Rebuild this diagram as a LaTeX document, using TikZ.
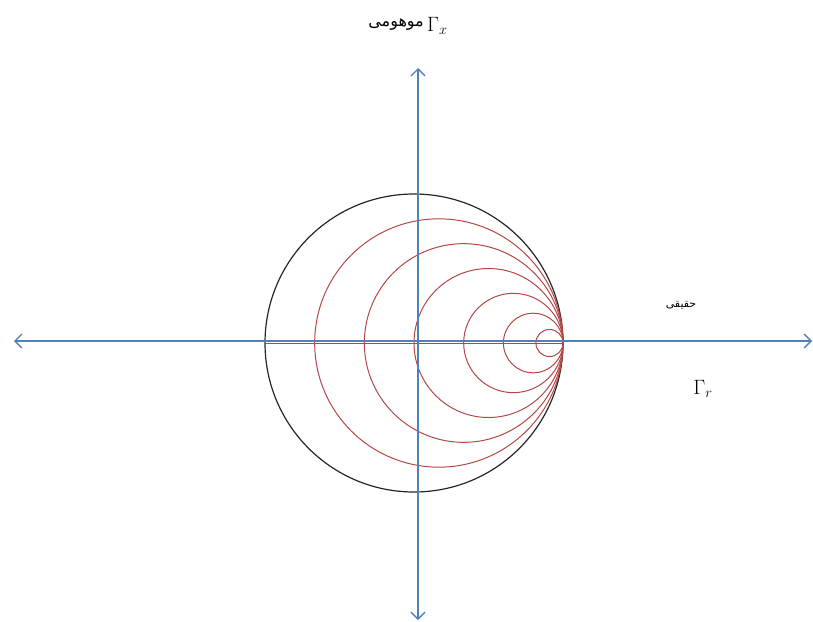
\documentclass[tikz,border=0pt]{standalone}
\usepackage{fontspec}
\newfontfamily\arabicfont[Script=Arabic]{DejaVu Sans}
\TeXXeTstate=1
\usetikzlibrary{arrows.meta,calc}
\definecolor{axisblue}{RGB}{79,129,189}
\definecolor{chartred}{RGB}{180,70,70}
\tikzset{
  axisline/.style={draw=axisblue, line width=1.3pt, {Straight Barb[length=7pt,width=14pt]}-{Straight Barb[length=7pt,width=14pt]}},
  rcircle/.style={draw=chartred, line width=1pt},
  outer/.style={draw=black!85, line width=1.2pt},
  lbl/.style={inner sep=0pt}
}
\begin{document}
\begin{tikzpicture}[x=1pt,y=-1pt]
\useasboundingbox (0,0) rectangle (813,621);
% coordinates
\coordinate (L) at (14,341);
\coordinate (R) at (812,341);
\coordinate (T) at (418,68);
\coordinate (B) at (418,620);
\coordinate (C) at (414,343);
\coordinate (P) at (563,343);
% outer circle
\draw[outer] (C) circle (149);
% constant-r circles (tangent at P)
\foreach \k in {0.8333,0.6667,0.5,0.3333,0.2,0.0909}{
  \draw[rcircle] ($(P)+({-149*\k},0)$) circle ({149*\k});
}
\draw[rcircle, line width=0.7pt] (265,343) -- (P);
% axes
\draw[axisline] (L) -- (R);
\draw[axisline] (T) -- (B);
% labels
\node[lbl, anchor=east] (im) at (424,25) {\arabicfont\fontsize{16}{18}\selectfont\beginR موهومی\endR};
\node[lbl, anchor=west] (gx) at (427,26) {\fontsize{20}{22}\selectfont$\Gamma_{x}$};
\node[lbl] (re) at (681,305) {\arabicfont\fontsize{11}{13}\selectfont\beginR حقیقی\endR};
\node[lbl] (gr) at (703,389) {\fontsize{20}{22}\selectfont$\Gamma_{r}$};
\end{tikzpicture}
\end{document}
